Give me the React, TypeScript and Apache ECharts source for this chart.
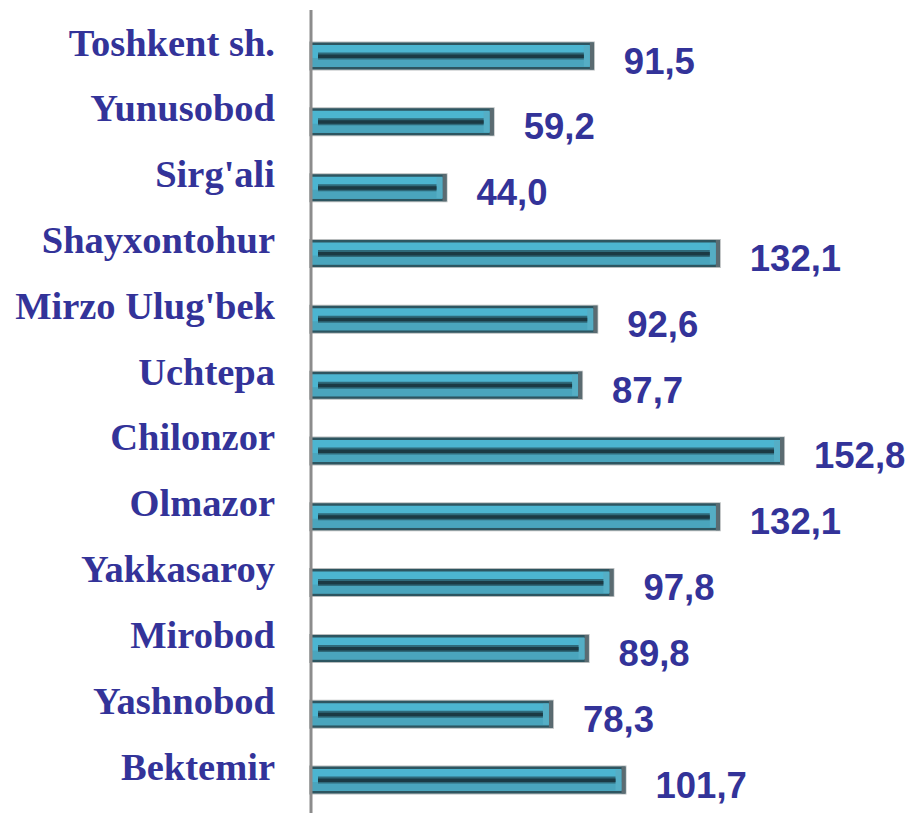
import React, { useEffect, useRef } from "react";
import * as echarts from "echarts";

const categories = [
  "Toshkent sh.",
  "Yunusobod",
  "Sirg'ali",
  "Shayxontohur",
  "Mirzo Ulug'bek",
  "Uchtepa",
  "Chilonzor",
  "Olmazor",
  "Yakkasaroy",
  "Mirobod",
  "Yashnobod",
  "Bektemir",
];
const values = [91.5, 59.2, 44.0, 132.1, 92.6, 87.7, 152.8, 132.1, 97.8, 89.8, 78.3, 101.7];

const fmt = (v: number) => v.toFixed(1).replace(".", ",");

export default function App() {
  const ref = useRef<HTMLDivElement>(null);
  useEffect(() => {
    if (!ref.current) return;
    const chart = echarts.init(ref.current, undefined, { renderer: "svg" });
    const renderItem = (params: any, api: any) => {
      const idx = api.value(1);
      const v = api.value(0);
      const s = api.coord([0, idx]);
      const e = api.coord([v, idx]);
      const h = 27;
      const x0 = s[0];
      const x1 = e[0];
      const cy = s[1];
      const top = cy - h / 2;
      const w = x1 - x0;
      return {
        type: "group",
        children: [
          { type: "rect", shape: { x: x0 - 1, y: top - 1, width: w + 2, height: h + 2 }, style: { fill: "#b8bcbd" } },
          { type: "rect", shape: { x: x0, y: top, width: w, height: h }, style: { fill: "#2d5560" } },
          { type: "rect", shape: { x: x0 + 2, y: top + 2.5, width: w - 6, height: h - 5 }, style: { fill: "#4cb5d0" } },
          { type: "rect", shape: { x: x0 + 2, y: cy + 2, width: w - 6, height: h / 2 - 4.5 }, style: { fill: "#4aa5bd" } },
          { type: "rect", shape: { x: x1 - 4, y: top, width: 4, height: h }, style: { fill: "#5b6b71" } },
          { type: "rect", shape: { x: x1 - 10, y: top + 3, width: 6, height: h - 6 }, style: { fill: "#55aec5" } },
          { type: "rect", shape: { x: x0 + 8, y: cy - 3.5, width: w - 18, height: 7 }, style: { fill: "#2f6a7a" } },
          { type: "rect", shape: { x: x0 + 8, y: cy - 1.5, width: w - 18, height: 3.5 }, style: { fill: "#1b3a44" } },
          {
            type: "text",
            x: x1 + 30,
            y: cy + 5,
            style: {
              text: fmt(v),
              fill: "#333399",
              font: "bold 36.5px 'Liberation Sans', Arial, sans-serif",
              align: "left",
              verticalAlign: "middle",
            },
          },
        ],
      };
    };
    chart.setOption({
      animation: false,
      backgroundColor: "#ffffff",
      grid: { left: 310, top: 23.1, height: 800.7, width: 558.4, containLabel: false },
      xAxis: {
        type: "value",
        min: 0,
        max: 180,
        show: false,
      },
      yAxis: {
        type: "category",
        data: categories,
        inverse: true,
        axisLine: { show: false },
        axisTick: { show: false },
        splitLine: { show: false },
        axisLabel: {
          margin: 35,
          color: "#333399",
          fontFamily: "'Liberation Serif', 'Times New Roman', serif",
          fontWeight: "bold",
          fontSize: 38.5,
          lineHeight: 27,
          verticalAlign: "bottom",
        },
      },
      series: [
        {
          type: "custom",
          renderItem,
          encode: { x: 0, y: 1 },
          data: values.map((v, i) => [v, i]),
          clip: false,
        },
      ],
      graphic: [
        {
          type: "line",
          z: 100,
          shape: { x1: 311, y1: 10, x2: 311, y2: 813 },
          style: { stroke: "#8c8c8c", lineWidth: 3 },
        },
      ],
    });
    return () => chart.dispose();
  }, []);
  return (
    <div
      ref={ref}
      style={{ position: "fixed", left: 0, top: 0, width: 915, height: 813 }}
    />
  );
}
